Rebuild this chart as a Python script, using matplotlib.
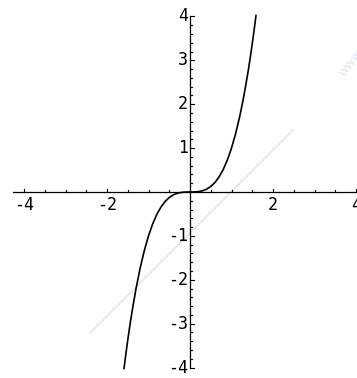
import matplotlib
matplotlib.use("Agg")
import matplotlib.pyplot as plt
from matplotlib.lines import Line2D

# Curve points
curve_x = [-1.59, -1.55, -1.5, -1.45, -1.4, -1.3, -1.2, -1.1, -1.0, -0.9, -0.8, -0.7,
           -0.6, -0.5, -0.4, -0.3, -0.2, -0.1, 0.0, 0.1, 0.2, 0.3, 0.4, 0.5, 0.6,
           0.7, 0.8, 0.9, 1.0, 1.1, 1.2, 1.3, 1.4, 1.45, 1.5, 1.55, 1.59]
curve_y = [-4.02, -3.724, -3.375, -3.049, -2.744, -2.197, -1.728, -1.331, -1.0, -0.729,
           -0.512, -0.343, -0.216, -0.125, -0.064, -0.027, -0.008, -0.001, 0.0,
           0.001, 0.008, 0.027, 0.064, 0.125, 0.216, 0.343, 0.512, 0.729, 1.0,
           1.331, 1.728, 2.197, 2.744, 3.049, 3.375, 3.724, 4.02]

x_ticks = [-4, -2, 2, 4]
x_tick_labels = ["-4", "-2", "2", "4"]
y_ticks = [-4, -3, -2, -1, 1, 2, 3, 4]
y_tick_labels = ["-4", "-3", "-2", "-1", "1", "2", "3", "4"]
x_minor = [-4.0, -3.5, -3.0, -2.5, -2.0, -1.5, -1.0, -0.5, 0.5, 1.0, 1.5, 2.0, 2.5, 3.0, 3.5, 4.0]
y_minor = [round(-4 + 0.2 * i, 1) for i in range(41)]

W, H = 357, 378
fig = plt.figure(figsize=(W / 100, H / 100), dpi=100)
ax = fig.add_axes([0, 0, 1, 1])
x0px, y0px = 190.0, 192.0
sx, sy = 41.5, 43.9
ax.set_xlim(-x0px / sx, (W - x0px) / sx)
ax.set_ylim(-(H - y0px) / sy, y0px / sy)
ax.axis("off")

# watermark decoration
fig.add_artist(Line2D([90 / W, 293 / W], [1 - 333 / H, 1 - 130 / H],
                      transform=fig.transFigure, color="#d8e8f4", lw=1.3, zorder=0))
fig.text(352 / W, 1 - 62 / H, "www.", color="#d8e8f4", fontsize=9, rotation=50,
         ha="center", va="center", family="DejaVu Sans", zorder=0)

# axes lines
ax.plot([-13 / sx * -1 - x0px / sx + 0, (W - x0px) / sx], [0, 0], color="black", lw=0.9,
        solid_capstyle="butt", zorder=2) if False else None
ax.plot([(13 - x0px) / sx, (W - x0px) / sx], [0, 0], color="black", lw=0.9, zorder=2)
ax.plot([0, 0], [-4.02, 4.02], color="black", lw=0.9, zorder=2)

# x ticks (pointing up)
for v in x_minor:
    L = 3.5 / sy if v in x_ticks else 2.0 / sy
    ax.plot([v, v], [0, L], color="black", lw=0.8, zorder=2)
for v, lab in zip(x_ticks, x_tick_labels):
    ax.text(v, -4 / sy, lab, ha="center", va="top", fontsize=12,
            family="DejaVu Sans Mono", color="black")

# y ticks (pointing right)
for v in y_minor:
    if v == 0:
        continue
    L = 3.5 / sx if v in y_ticks else 2.0 / sx
    ax.plot([0, L], [v, v], color="black", lw=0.8, zorder=2)
for v, lab in zip(y_ticks, y_tick_labels):
    ax.text(-2 / sx, v, lab, ha="right", va="center", fontsize=12,
            family="DejaVu Sans Mono", color="black")

ax.plot(curve_x, curve_y, color="black", lw=1.2, zorder=3)

fig.savefig("out.png", dpi=100)
